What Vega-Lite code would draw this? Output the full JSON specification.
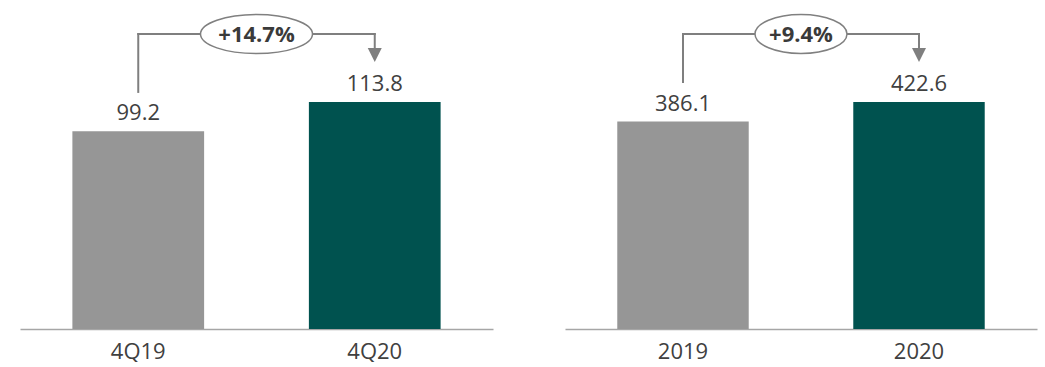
{
  "$schema": "https://vega.github.io/schema/vega-lite/v6.json",
  "background": "white",
  "padding": {"left": 20, "top": 0, "right": 5, "bottom": 0},
  "spacing": 72,
  "config": {
    "view": {"stroke": null},
    "font": "Open Sans",
    "axisX": {
      "title": null,
      "domainColor": "#a6a6a6",
      "domainWidth": 1.5,
      "ticks": false,
      "labelFontSize": 22,
      "labelColor": "#404040",
      "labelPadding": 12,
      "labelBaseline": "top",
      "labelAngle": 0,
      "labelFont": "Open Sans"
    }
  },
  "hconcat": [
    {
      "width": 473,
      "height": 329,
      "layer": [
        {
          "data": {"values": [
            {"period": "4Q19", "value": 99.2, "kind": "prior"},
            {"period": "4Q20", "value": 113.8, "kind": "current"}
          ]},
          "layer": [
            {
              "mark": {"type": "bar"},
              "encoding": {
                "x": {"field": "period", "type": "nominal", "sort": null, "scale": {"domain": ["4Q19", "4Q20"], "paddingInner": 0.443, "paddingOuter": 0.2215}},
                "y": {"field": "value", "type": "quantitative", "scale": {"domain": [0, 165]}, "axis": null},
                "color": {"field": "kind", "type": "nominal", "scale": {"domain": ["prior", "current"], "range": ["#969696", "#00524F"]}, "legend": null}
              }
            },
            {
              "mark": {"type": "text", "dy": -11, "baseline": "alphabetic", "fontSize": 22, "color": "#404040", "font": "Open Sans"},
              "encoding": {
                "x": {"field": "period", "type": "nominal", "sort": null, "scale": {"domain": ["4Q19", "4Q20"]}},
                "y": {"field": "value", "type": "quantitative", "scale": {"domain": [0, 165]}, "axis": null},
                "text": {"field": "value", "type": "quantitative", "format": ".1f"}
              }
            }
          ]
        },
        {
          "data": {"values": [
            {"from": "4Q19", "to": "4Q20", "start": 118.9, "top": 147.9, "end": 140.9, "tip": 137.4, "change": "+14.7%"}
          ]},
          "layer": [
            {
              "mark": {"type": "rule", "color": "#7f7f7f", "strokeWidth": 2, "strokeCap": "square"},
              "encoding": {
                "x": {"field": "from", "type": "nominal", "scale": {"domain": ["4Q19", "4Q20"]}},
                "y": {"field": "start", "type": "quantitative", "scale": {"domain": [0, 165]}},
                "y2": {"field": "top"}
              }
            },
            {
              "mark": {"type": "rule", "color": "#7f7f7f", "strokeWidth": 2, "strokeCap": "square"},
              "encoding": {
                "x": {"field": "from", "type": "nominal", "scale": {"domain": ["4Q19", "4Q20"]}},
                "x2": {"field": "to"},
                "y": {"field": "top", "type": "quantitative", "scale": {"domain": [0, 165]}}
              }
            },
            {
              "mark": {"type": "rule", "color": "#7f7f7f", "strokeWidth": 2, "strokeCap": "square"},
              "encoding": {
                "x": {"field": "to", "type": "nominal", "scale": {"domain": ["4Q19", "4Q20"]}},
                "y": {"field": "top", "type": "quantitative", "scale": {"domain": [0, 165]}},
                "y2": {"field": "end"}
              }
            },
            {
              "mark": {"type": "point", "shape": "M-1,-1L1,-1L0,1Z", "size": 196, "filled": true, "fill": "#7f7f7f", "strokeWidth": 0, "opacity": 1},
              "encoding": {
                "x": {"field": "to", "type": "nominal", "scale": {"domain": ["4Q19", "4Q20"]}},
                "y": {"field": "tip", "type": "quantitative", "scale": {"domain": [0, 165]}}
              }
            },
            {
              "mark": {"type": "point", "shape": "M-2.8,0A2.8,0.975,0,1,1,2.8,0A2.8,0.975,0,1,1,-2.8,0Z", "size": 1600, "filled": false, "fill": "white", "stroke": "#808080", "strokeWidth": 1.5, "opacity": 1, "fillOpacity": 1, "xOffset": 118.25},
              "encoding": {
                "x": {"field": "from", "type": "nominal", "scale": {"domain": ["4Q19", "4Q20"]}},
                "y": {"field": "top", "type": "quantitative", "scale": {"domain": [0, 165]}}
              }
            },
            {
              "mark": {"type": "text", "dx": 118.25, "dy": 8, "baseline": "alphabetic", "fontSize": 22, "fontWeight": "bold", "color": "#3a3a3a", "font": "Open Sans"},
              "encoding": {
                "x": {"field": "from", "type": "nominal", "scale": {"domain": ["4Q19", "4Q20"]}},
                "y": {"field": "top", "type": "quantitative", "scale": {"domain": [0, 165]}},
                "text": {"field": "change", "type": "nominal"}
              }
            }
          ]
        }
      ]
    },
    {
      "width": 472,
      "height": 329,
      "layer": [
        {
          "data": {"values": [
            {"period": "2019", "value": 386.1, "kind": "prior"},
            {"period": "2020", "value": 422.6, "kind": "current"}
          ]},
          "layer": [
            {
              "mark": {"type": "bar"},
              "encoding": {
                "x": {"field": "period", "type": "nominal", "sort": null, "scale": {"domain": ["2019", "2020"], "paddingInner": 0.443, "paddingOuter": 0.2215}},
                "y": {"field": "value", "type": "quantitative", "scale": {"domain": [0, 612.5]}, "axis": null},
                "color": {"field": "kind", "type": "nominal", "scale": {"domain": ["prior", "current"], "range": ["#969696", "#00524F"]}, "legend": null}
              }
            },
            {
              "mark": {"type": "text", "dy": -11, "baseline": "alphabetic", "fontSize": 22, "color": "#404040", "font": "Open Sans"},
              "encoding": {
                "x": {"field": "period", "type": "nominal", "sort": null, "scale": {"domain": ["2019", "2020"]}},
                "y": {"field": "value", "type": "quantitative", "scale": {"domain": [0, 612.5]}, "axis": null},
                "text": {"field": "value", "type": "quantitative", "format": ".1f"}
              }
            }
          ]
        },
        {
          "data": {"values": [
            {"from": "2019", "to": "2020", "start": 459.8, "top": 549.2, "end": 523.1, "tip": 510.1, "change": "+9.4%"}
          ]},
          "layer": [
            {
              "mark": {"type": "rule", "color": "#7f7f7f", "strokeWidth": 2, "strokeCap": "square"},
              "encoding": {
                "x": {"field": "from", "type": "nominal", "scale": {"domain": ["2019", "2020"]}},
                "y": {"field": "start", "type": "quantitative", "scale": {"domain": [0, 612.5]}},
                "y2": {"field": "top"}
              }
            },
            {
              "mark": {"type": "rule", "color": "#7f7f7f", "strokeWidth": 2, "strokeCap": "square"},
              "encoding": {
                "x": {"field": "from", "type": "nominal", "scale": {"domain": ["2019", "2020"]}},
                "x2": {"field": "to"},
                "y": {"field": "top", "type": "quantitative", "scale": {"domain": [0, 612.5]}}
              }
            },
            {
              "mark": {"type": "rule", "color": "#7f7f7f", "strokeWidth": 2, "strokeCap": "square"},
              "encoding": {
                "x": {"field": "to", "type": "nominal", "scale": {"domain": ["2019", "2020"]}},
                "y": {"field": "top", "type": "quantitative", "scale": {"domain": [0, 612.5]}},
                "y2": {"field": "end"}
              }
            },
            {
              "mark": {"type": "point", "shape": "M-1,-1L1,-1L0,1Z", "size": 196, "filled": true, "fill": "#7f7f7f", "strokeWidth": 0, "opacity": 1},
              "encoding": {
                "x": {"field": "to", "type": "nominal", "scale": {"domain": ["2019", "2020"]}},
                "y": {"field": "tip", "type": "quantitative", "scale": {"domain": [0, 612.5]}}
              }
            },
            {
              "mark": {"type": "point", "shape": "M-2.3,0A2.3,0.975,0,1,1,2.3,0A2.3,0.975,0,1,1,-2.3,0Z", "size": 1600, "filled": false, "fill": "white", "stroke": "#808080", "strokeWidth": 1.5, "opacity": 1, "fillOpacity": 1, "xOffset": 118},
              "encoding": {
                "x": {"field": "from", "type": "nominal", "scale": {"domain": ["2019", "2020"]}},
                "y": {"field": "top", "type": "quantitative", "scale": {"domain": [0, 612.5]}}
              }
            },
            {
              "mark": {"type": "text", "dx": 118, "dy": 8, "baseline": "alphabetic", "fontSize": 22, "fontWeight": "bold", "color": "#3a3a3a", "font": "Open Sans"},
              "encoding": {
                "x": {"field": "from", "type": "nominal", "scale": {"domain": ["2019", "2020"]}},
                "y": {"field": "top", "type": "quantitative", "scale": {"domain": [0, 612.5]}},
                "text": {"field": "change", "type": "nominal"}
              }
            }
          ]
        }
      ]
    }
  ]
}
